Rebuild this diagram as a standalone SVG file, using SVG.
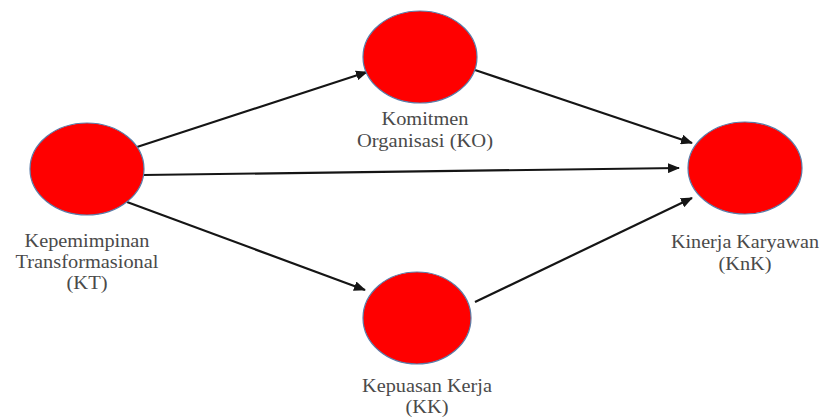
<svg xmlns="http://www.w3.org/2000/svg" width="822" height="419" viewBox="0 0 822 419">
<style>
.node{fill:#ff0000;stroke:#5a7ca8;stroke-width:1.2}
.lbl{font-family:"Liberation Serif","DejaVu Serif",serif;font-size:18px;fill:#4a4a4a;text-anchor:middle}
.edge{stroke:#151515;stroke-width:2.2;fill:none;marker-end:url(#ah)}
</style>
<defs>
<marker id="ah" markerWidth="12" markerHeight="10" refX="11" refY="5" orient="auto" markerUnits="userSpaceOnUse">
<path d="M0,0 L12,5 L0,10 Z" fill="#151515"/>
</marker>
</defs>
<rect width="822" height="419" fill="#ffffff"/>
<g id="connectors">
<line class="edge" x1="137" y1="147" x2="367" y2="72"/>
<line class="edge" x1="143" y1="175" x2="679" y2="168"/>
<line class="edge" x1="127" y1="202" x2="365" y2="290"/>
<line class="edge" x1="475" y1="70" x2="692" y2="143"/>
<line class="edge" x1="475" y1="302" x2="692" y2="198"/>
</g>
<g id="KT">
<ellipse class="node" cx="87" cy="169" rx="57" ry="46"/>
<text class="lbl" x="87" y="247" textLength="125" lengthAdjust="spacingAndGlyphs">Kepemimpinan</text>
<text class="lbl" x="87" y="268" textLength="143" lengthAdjust="spacingAndGlyphs">Transformasional</text>
<text class="lbl" x="87" y="289" textLength="41" lengthAdjust="spacingAndGlyphs">(KT)</text>
</g>
<g id="KO">
<ellipse class="node" cx="420" cy="57" rx="57" ry="46"/>
<text class="lbl" x="425" y="125" textLength="87" lengthAdjust="spacingAndGlyphs">Komitmen</text>
<text class="lbl" x="425" y="147" textLength="136" lengthAdjust="spacingAndGlyphs">Organisasi (KO)</text>
</g>
<g id="KK">
<ellipse class="node" cx="417" cy="318" rx="54" ry="46"/>
<text class="lbl" x="427" y="392" textLength="130" lengthAdjust="spacingAndGlyphs">Kepuasan Kerja</text>
<text class="lbl" x="427" y="413" textLength="43" lengthAdjust="spacingAndGlyphs">(KK)</text>
</g>
<g id="KnK">
<ellipse class="node" cx="745" cy="168" rx="57" ry="46"/>
<text class="lbl" x="745" y="248" textLength="148" lengthAdjust="spacingAndGlyphs">Kinerja Karyawan</text>
<text class="lbl" x="745" y="270" textLength="53" lengthAdjust="spacingAndGlyphs">(KnK)</text>
</g>
</svg>
